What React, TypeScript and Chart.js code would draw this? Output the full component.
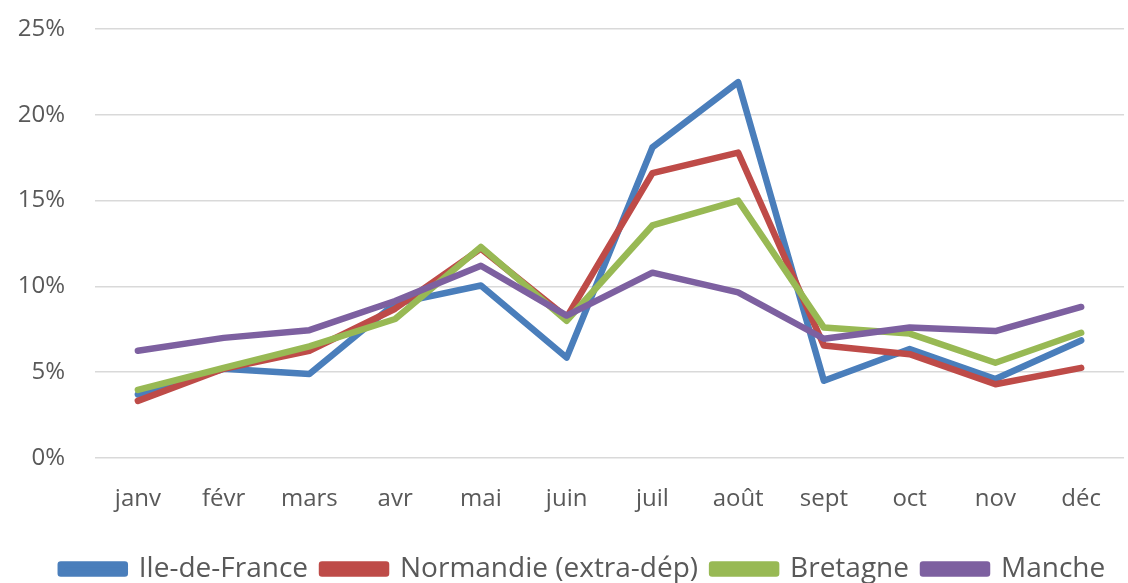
import React, { useEffect, useRef } from "react";
import { Chart, registerables } from "chart.js";

Chart.register(...registerables);

const months = ["janv", "févr", "mars", "avr", "mai", "juin", "juil", "août", "sept", "oct", "nov", "déc"];
const ileDeFrance = [3.7, 5.2, 4.9, 9.0, 10.05, 5.85, 18.1, 21.9, 4.5, 6.35, 4.6, 6.85];
const normandie = [3.33, 5.2, 6.25, 8.7, 12.2, 8.2, 16.6, 17.8, 6.55, 6.05, 4.3, 5.25];
const bretagne = [3.97, 5.25, 6.5, 8.1, 12.3, 8.0, 13.55, 15.0, 7.6, 7.25, 5.55, 7.3];
const manche = [6.25, 7.0, 7.45, 9.15, 11.2, 8.3, 10.8, 9.65, 6.95, 7.6, 7.4, 8.8];
const yTicks = [0, 5, 10, 15, 20, 25];

const FONT = "'Open Sans', 'Noto Sans', sans-serif";

const legendShift = {
  id: "legendShift",
  afterLayout(chart: any) {
    const l = chart.legend;
    if (l) {
      l.left += 19;
      l.right += 19;
    }
  },
};

export default function App() {
  const ref = useRef<HTMLCanvasElement | null>(null);
  useEffect(() => {
    document.body.style.margin = "0";
    const ctx = ref.current!.getContext("2d")!;
    const mk = (label: string, data: number[], color: string, order: number) => ({
      label,
      data,
      borderColor: color,
      backgroundColor: color,
      borderWidth: 6.5,
      pointRadius: 0,
      tension: 0,
      borderJoinStyle: "round" as const,
      borderCapStyle: "round" as const,
      order,
    });
    const chart = new Chart(ctx, {
      type: "line",
      data: {
        labels: months,
        datasets: [
          mk("Ile-de-France", ileDeFrance, "#4A7EBB", 4),
          mk("Normandie (extra-dép)", normandie, "#BE4B48", 3),
          mk("Bretagne", bretagne, "#98B954", 2),
          mk("Manche", manche, "#7D60A0", 1),
        ],
      },
      plugins: [legendShift],
      options: {
        animation: false,
        responsive: false,
        maintainAspectRatio: false,
        layout: { padding: { top: 0, right: 0, left: 0, bottom: -10 } },
        plugins: {
          tooltip: { enabled: false },
          legend: {
            position: "bottom",
            labels: {
              boxWidth: 64,
              boxHeight: 9,
              padding: 14,
              color: "#595959",
              font: { family: FONT, size: 28 },
              sort: (a: any, b: any) => a.datasetIndex - b.datasetIndex,
            },
          },
        },
        scales: {
          x: {
            offset: true,
            grid: { display: false, drawTicks: false },
            border: { display: false },
            ticks: {
              color: "#595959",
              padding: 27,
              font: { family: FONT, size: 24 },
              maxRotation: 0,
              autoSkip: false,
            },
            afterFit: (s: any) => {
              s.height = 83;
            },
          },
          y: {
            min: 0,
            max: 25,
            afterBuildTicks: (s: any) => {
              s.ticks = yTicks.map((v) => ({ value: v }));
            },
            grid: { color: "#D9D9D9", lineWidth: 1.5, drawTicks: false },
            border: { display: false },
            ticks: {
              color: "#595959",
              padding: 30,
              font: { family: FONT, size: 24 },
              callback: (v: any) => v + "%",
            },
            afterFit: (s: any) => {
              s.width = 95;
              s.paddingTop = 29;
              s.paddingBottom = 0;
            },
          },
        },
      },
    });
    return () => chart.destroy();
  }, []);
  return (
    <div style={{ position: "absolute", left: 0, top: 0, width: 1128, height: 583, background: "#fff" }}>
      <canvas ref={ref} width={1128} height={583} style={{ display: "block" }} />
    </div>
  );
}
